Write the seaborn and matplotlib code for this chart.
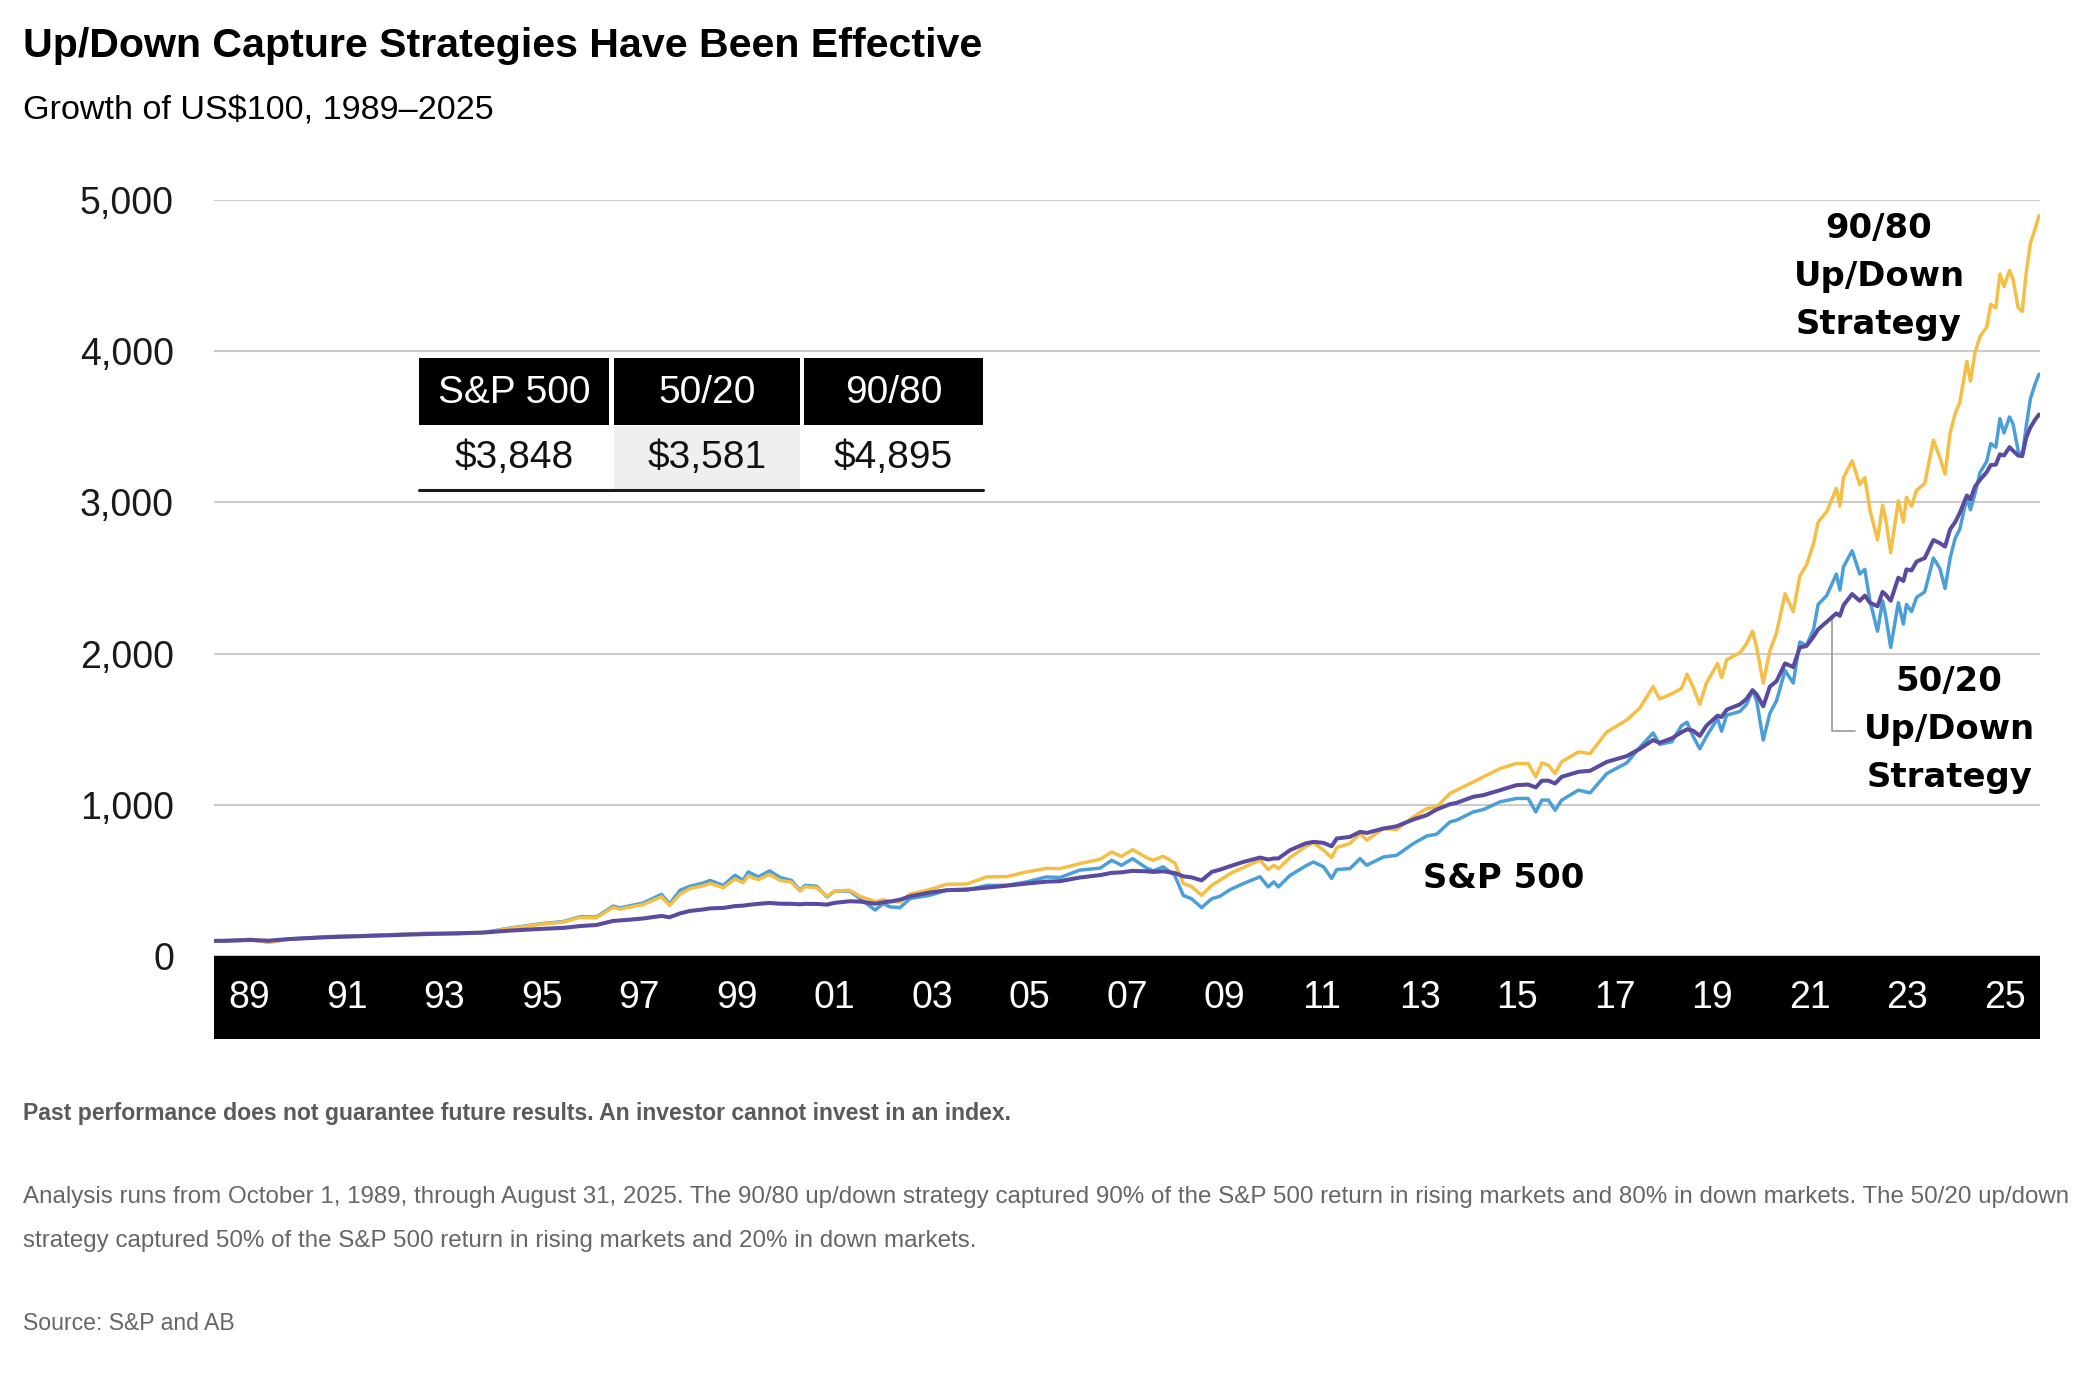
import numpy as np
import pandas as pd
import matplotlib
matplotlib.use("Agg")
import matplotlib.pyplot as plt
import seaborn as sns
from matplotlib.patches import Rectangle
from matplotlib.lines import Line2D
from matplotlib.transforms import blended_transform_factory

# ---------------- data ----------------
dates = [
    1989.75, 1990.00, 1990.45, 1990.80, 1991.20, 1991.95, 1992.90, 1993.90, 1994.50, 1995.03,
    1995.56, 1996.21, 1996.61, 1996.94, 1997.26, 1997.59, 1997.72, 1998.18, 1998.54, 1998.70,
    1998.91, 1999.10, 1999.37, 1999.50, 1999.76, 1999.99, 2000.15, 2000.25, 2000.45, 2000.67,
    2000.88, 2001.10, 2001.27, 2001.37, 2001.60, 2001.80, 2001.96, 2002.25, 2002.45, 2002.75,
    2002.91, 2003.04, 2003.24, 2003.44, 2003.83, 2004.16, 2004.55, 2004.95, 2005.34, 2005.73,
    2006.13, 2006.39, 2006.78, 2007.18, 2007.41, 2007.60, 2007.82, 2008.10, 2008.23, 2008.42,
    2008.65, 2008.82, 2008.98, 2009.18, 2009.38, 2009.54, 2009.74, 2010.00, 2010.33, 2010.49,
    2010.60, 2010.69, 2010.92, 2011.22, 2011.38, 2011.58, 2011.74, 2011.84, 2012.10, 2012.30,
    2012.43, 2012.76, 2013.02, 2013.35, 2013.61, 2013.81, 2014.07, 2014.20, 2014.53, 2014.73,
    2015.06, 2015.38, 2015.61, 2015.76, 2015.88, 2016.01, 2016.14, 2016.27, 2016.60, 2016.83,
    2017.16, 2017.55, 2017.81, 2018.07, 2018.20, 2018.44, 2018.63, 2018.74, 2018.86, 2018.99,
    2019.12, 2019.34, 2019.42, 2019.52, 2019.78, 2019.91, 2020.03, 2020.11, 2020.24, 2020.37,
    2020.50, 2020.67, 2020.83, 2020.96, 2021.09, 2021.23, 2021.32, 2021.49, 2021.68, 2021.75,
    2021.82, 2021.99, 2022.14, 2022.24, 2022.34, 2022.49, 2022.59, 2022.65, 2022.75, 2022.90,
    2023.00, 2023.06, 2023.16, 2023.26, 2023.42, 2023.59, 2023.72, 2023.82, 2023.92, 2024.02,
    2024.11, 2024.25, 2024.32, 2024.41, 2024.51, 2024.64, 2024.72, 2024.82, 2024.90, 2024.98,
    2025.09, 2025.16, 2025.26, 2025.34, 2025.42, 2025.50, 2025.59, 2025.67,
]

sp500 = [
    100, 102, 110, 92, 112, 128, 137, 150, 148, 155,
    185, 215, 228, 260, 258, 330, 318, 350, 408, 345,
    435, 461, 483, 500, 467, 534, 500, 556, 523, 563,
    519, 500, 435, 467, 461, 390, 430, 430, 380, 304,
    347, 325, 320, 380, 402, 435, 435, 467, 467, 490,
    523, 519, 568, 581, 633, 600, 644, 581, 563, 590,
    533, 400, 379, 320, 379, 395, 439, 479, 524, 457,
    490, 457, 533, 594, 622, 590, 513, 572, 578, 644,
    600, 655, 666, 744, 793, 806, 887, 898, 953, 969,
    1020, 1042, 1042, 953, 1031, 1031, 964, 1031, 1097, 1079,
    1207, 1277, 1380, 1475, 1400, 1417, 1523, 1546, 1452, 1370,
    1452, 1570, 1487, 1593, 1617, 1664, 1758, 1687, 1428, 1605,
    1687, 1888, 1805, 2077, 2053, 2160, 2325, 2384, 2526, 2420,
    2574, 2680, 2526, 2557, 2349, 2148, 2349, 2254, 2041, 2337,
    2195, 2325, 2278, 2372, 2408, 2632, 2562, 2431, 2632, 2763,
    2822, 3034, 2951, 3058, 3199, 3271, 3389, 3365, 3554, 3459,
    3565, 3518, 3341, 3306, 3507, 3684, 3779, 3848,
]

updown_90_80 = [
    100, 101, 109, 90, 110, 126, 135, 148, 146, 153,
    183, 212, 225, 255, 253, 322, 310, 340, 392, 335,
    410, 446, 465, 480, 452, 510, 485, 530, 505, 540,
    500, 488, 430, 458, 452, 395, 430, 435, 395, 360,
    372, 360, 358, 410, 440, 474, 476, 523, 525, 556,
    580, 578, 611, 640, 688, 659, 703, 650, 633, 660,
    616, 479, 460, 402, 468, 501, 545, 585, 634, 572,
    600, 578, 651, 722, 748, 700, 651, 717, 744, 810,
    766, 843, 836, 920, 975, 986, 1075, 1097, 1151, 1185,
    1240, 1273, 1273, 1185, 1277, 1262, 1207, 1284, 1350, 1339,
    1482, 1560, 1640, 1782, 1700, 1735, 1770, 1864, 1777, 1664,
    1805, 1935, 1841, 1959, 2006, 2065, 2148, 2041, 1805, 2018,
    2136, 2396, 2278, 2514, 2585, 2727, 2869, 2939, 3093, 2975,
    3164, 3275, 3117, 3164, 2951, 2751, 2982, 2892, 2668, 3010,
    2869, 3034, 2975, 3081, 3124, 3412, 3295, 3188, 3459, 3589,
    3660, 3932, 3802, 3991, 4097, 4160, 4310, 4287, 4511, 4428,
    4534, 4475, 4287, 4263, 4523, 4712, 4806, 4895,
]

updown_50_20 = [
    100, 101, 106, 101, 112, 124, 134, 145, 150, 155,
    168, 180, 186, 198, 205, 232, 235, 248, 265, 256,
    282, 298, 308, 315, 318, 330, 333, 338, 345, 351,
    346, 345, 342, 345, 344, 340, 352, 362, 360, 346,
    355, 360, 372, 395, 420, 435, 440, 452, 465, 479,
    492, 495, 519, 535, 550, 553, 563, 560, 556, 560,
    549, 527, 520, 500, 556, 571, 594, 622, 651, 638,
    645, 645, 700, 744, 755, 748, 726, 777, 788, 821,
    814, 843, 858, 903, 931, 969, 1004, 1013, 1053, 1064,
    1097, 1130, 1134, 1115, 1159, 1160, 1141, 1185, 1218, 1225,
    1284, 1322, 1370, 1428, 1410, 1440, 1480, 1499, 1490, 1456,
    1523, 1590, 1580, 1629, 1664, 1700, 1758, 1730, 1652, 1782,
    1817, 1935, 1911, 2041, 2050, 2112, 2160, 2210, 2266, 2250,
    2320, 2394, 2349, 2384, 2337, 2313, 2408, 2390, 2349, 2502,
    2480, 2557, 2550, 2609, 2632, 2751, 2730, 2708, 2822, 2870,
    2930, 3046, 3020, 3105, 3150, 3200, 3247, 3250, 3318, 3310,
    3365, 3341, 3310, 3306, 3430, 3495, 3545, 3581,
]

x_labels = ["89", "91", "93", "95", "97", "99", "01", "03", "05", "07",
            "09", "11", "13", "15", "17", "19", "21", "23", "25"]
y_ticks = [0, 1000, 2000, 3000, 4000, 5000]
table_headers = ["S&P 500", "50/20", "90/80"]
table_values = ["$3,848", "$3,581", "$4,895"]

title = "Up/Down Capture Strategies Have Been Effective"
subtitle = "Growth of US$100, 1989\u20132025"
footnotes = [
    "Past performance does not guarantee future results. An investor cannot invest in an index.",
    "Analysis runs from October 1, 1989, through August 31, 2025. The 90/80 up/down strategy captured 90% of the S&P 500 return in rising markets and 80% in down markets. The 50/20 up/down",
    "strategy captured 50% of the S&P 500 return in rising markets and 20% in down markets.",
    "Source: S&P and AB",
]

# ---------------- styling ----------------
BLUE = "#4A9FD8"
YELLOW = "#F5BE45"
PURPLE = "#5A4AA0"

sns.set_theme(style="white")
plt.rcParams["font.family"] = ["Liberation Sans", "DejaVu Sans"]

W, H, DPI = 2098, 1376, 200
fig = plt.figure(figsize=(W / DPI, H / DPI), dpi=DPI)
fig.patch.set_facecolor("white")


def fx(px):
    return px / W


def fy(py):
    return 1 - py / H


AX_L, AX_R, AX_T, AX_B = 214, 2040, 200, 956
ax = fig.add_axes([fx(AX_L), fy(AX_B), fx(AX_R) - fx(AX_L), fy(AX_T) - fy(AX_B)])
ax_h_px = AX_B - AX_T

df = pd.DataFrame({"date": dates, "sp500": sp500,
                   "s9080": updown_90_80, "s5020": updown_50_20})

sns.lineplot(data=df, x="date", y="sp500", color=BLUE, lw=1.25, ax=ax, zorder=3)
sns.lineplot(data=df, x="date", y="s9080", color=YELLOW, lw=1.25, ax=ax, zorder=4)
sns.lineplot(data=df, x="date", y="s5020", color=PURPLE, lw=1.45, ax=ax, zorder=5)

ax.set_xlim(1989.73, 2025.69)
ax.set_ylim(0, 5000)
ax.set_xlabel("")
ax.set_ylabel("")
ax.set_xticks([])
ax.set_yticks(y_ticks)
ax.set_yticklabels([f"{v:,}" for v in y_ticks])
ax.tick_params(axis="y", length=0, pad=14.4, labelsize=13.5, labelcolor="#1a1a1a")
for s in ax.spines.values():
    s.set_visible(False)
ax.grid(axis="y", color="#cbcbcb", lw=0.75)
ax.grid(axis="x", visible=False)
ax.set_axisbelow(True)
ax.set_facecolor("white")

# black band for the x axis
band_h = (1039 - AX_B) / ax_h_px
ax.add_patch(Rectangle((0, -band_h), 1, band_h, transform=ax.transAxes,
                       facecolor="black", edgecolor="none", clip_on=False, zorder=6))
trans = blended_transform_factory(ax.transData, ax.transAxes)
label_pos = np.linspace(1990.42, 2025.0, len(x_labels))
for pos, lab in zip(label_pos, x_labels):
    ax.text(pos, -(1008 - AX_B) / ax_h_px, lab, transform=trans, ha="center",
            va="baseline", color="white", fontsize=13.5, zorder=7, clip_on=False)

# series labels
lab_kw = dict(fontsize=12.2, fontweight="bold", family=["DejaVu Sans"],
              ha="center", va="center", color="black", linespacing=1.58, zorder=8)
ax.text(2022.52, 4495, "90/80\nUp/Down\nStrategy", **lab_kw)
ax.text(2023.90, 1497, "50/20\nUp/Down\nStrategy", **lab_kw)
ax.text(2015.12, 514, "S&P 500", **lab_kw)

# leader line for the 50/20 label
ax.plot([2021.6, 2021.6, 2022.05], [2241, 1487, 1487], color="#9a9a9a", lw=0.6, zorder=2)

# title & subtitle
fig.text(fx(23), fy(57), title, fontsize=14.8, fontweight="bold", ha="left",
         va="baseline", color="black")
fig.text(fx(23), fy(120), subtitle, fontsize=12.3, ha="left", va="baseline",
         color="black")

# table
cols = [(419, 609), (614, 800), (804, 983)]
for i, (x0, x1) in enumerate(cols):
    fig.add_artist(Rectangle((fx(x0), fy(425)), fx(x1) - fx(x0), fy(358) - fy(425),
                             transform=fig.transFigure, facecolor="black",
                             edgecolor="none", zorder=10))
    if i == 1:
        fig.add_artist(Rectangle((fx(x0), fy(489)), fx(x1) - fx(x0), fy(426) - fy(489),
                                 transform=fig.transFigure, facecolor="#efefef",
                                 edgecolor="none", zorder=10))
    cx = (x0 + x1) / 2
    fig.text(fx(cx), fy(403), table_headers[i], fontsize=14, color="white",
             ha="center", va="baseline", zorder=11)
    fig.text(fx(cx), fy(468), table_values[i], fontsize=14, color="#111111",
             ha="center", va="baseline", zorder=11)
fig.add_artist(Line2D([fx(419), fx(983)], [fy(490), fy(490)], color="#1a1a1a",
                      lw=1.1, transform=fig.transFigure, zorder=11))

# footnotes
fig.text(fx(23), fy(1120), footnotes[0], fontsize=8.3, fontweight="bold",
         color="#5a5a5a", ha="left", va="baseline")
fig.text(fx(23), fy(1203), footnotes[1], fontsize=8.7, color="#666666",
         ha="left", va="baseline")
fig.text(fx(23), fy(1247), footnotes[2], fontsize=8.7, color="#666666",
         ha="left", va="baseline")
fig.text(fx(23), fy(1330), footnotes[3], fontsize=8.3, color="#666666",
         ha="left", va="baseline")

fig.savefig("out.png", dpi=DPI, facecolor="white")
